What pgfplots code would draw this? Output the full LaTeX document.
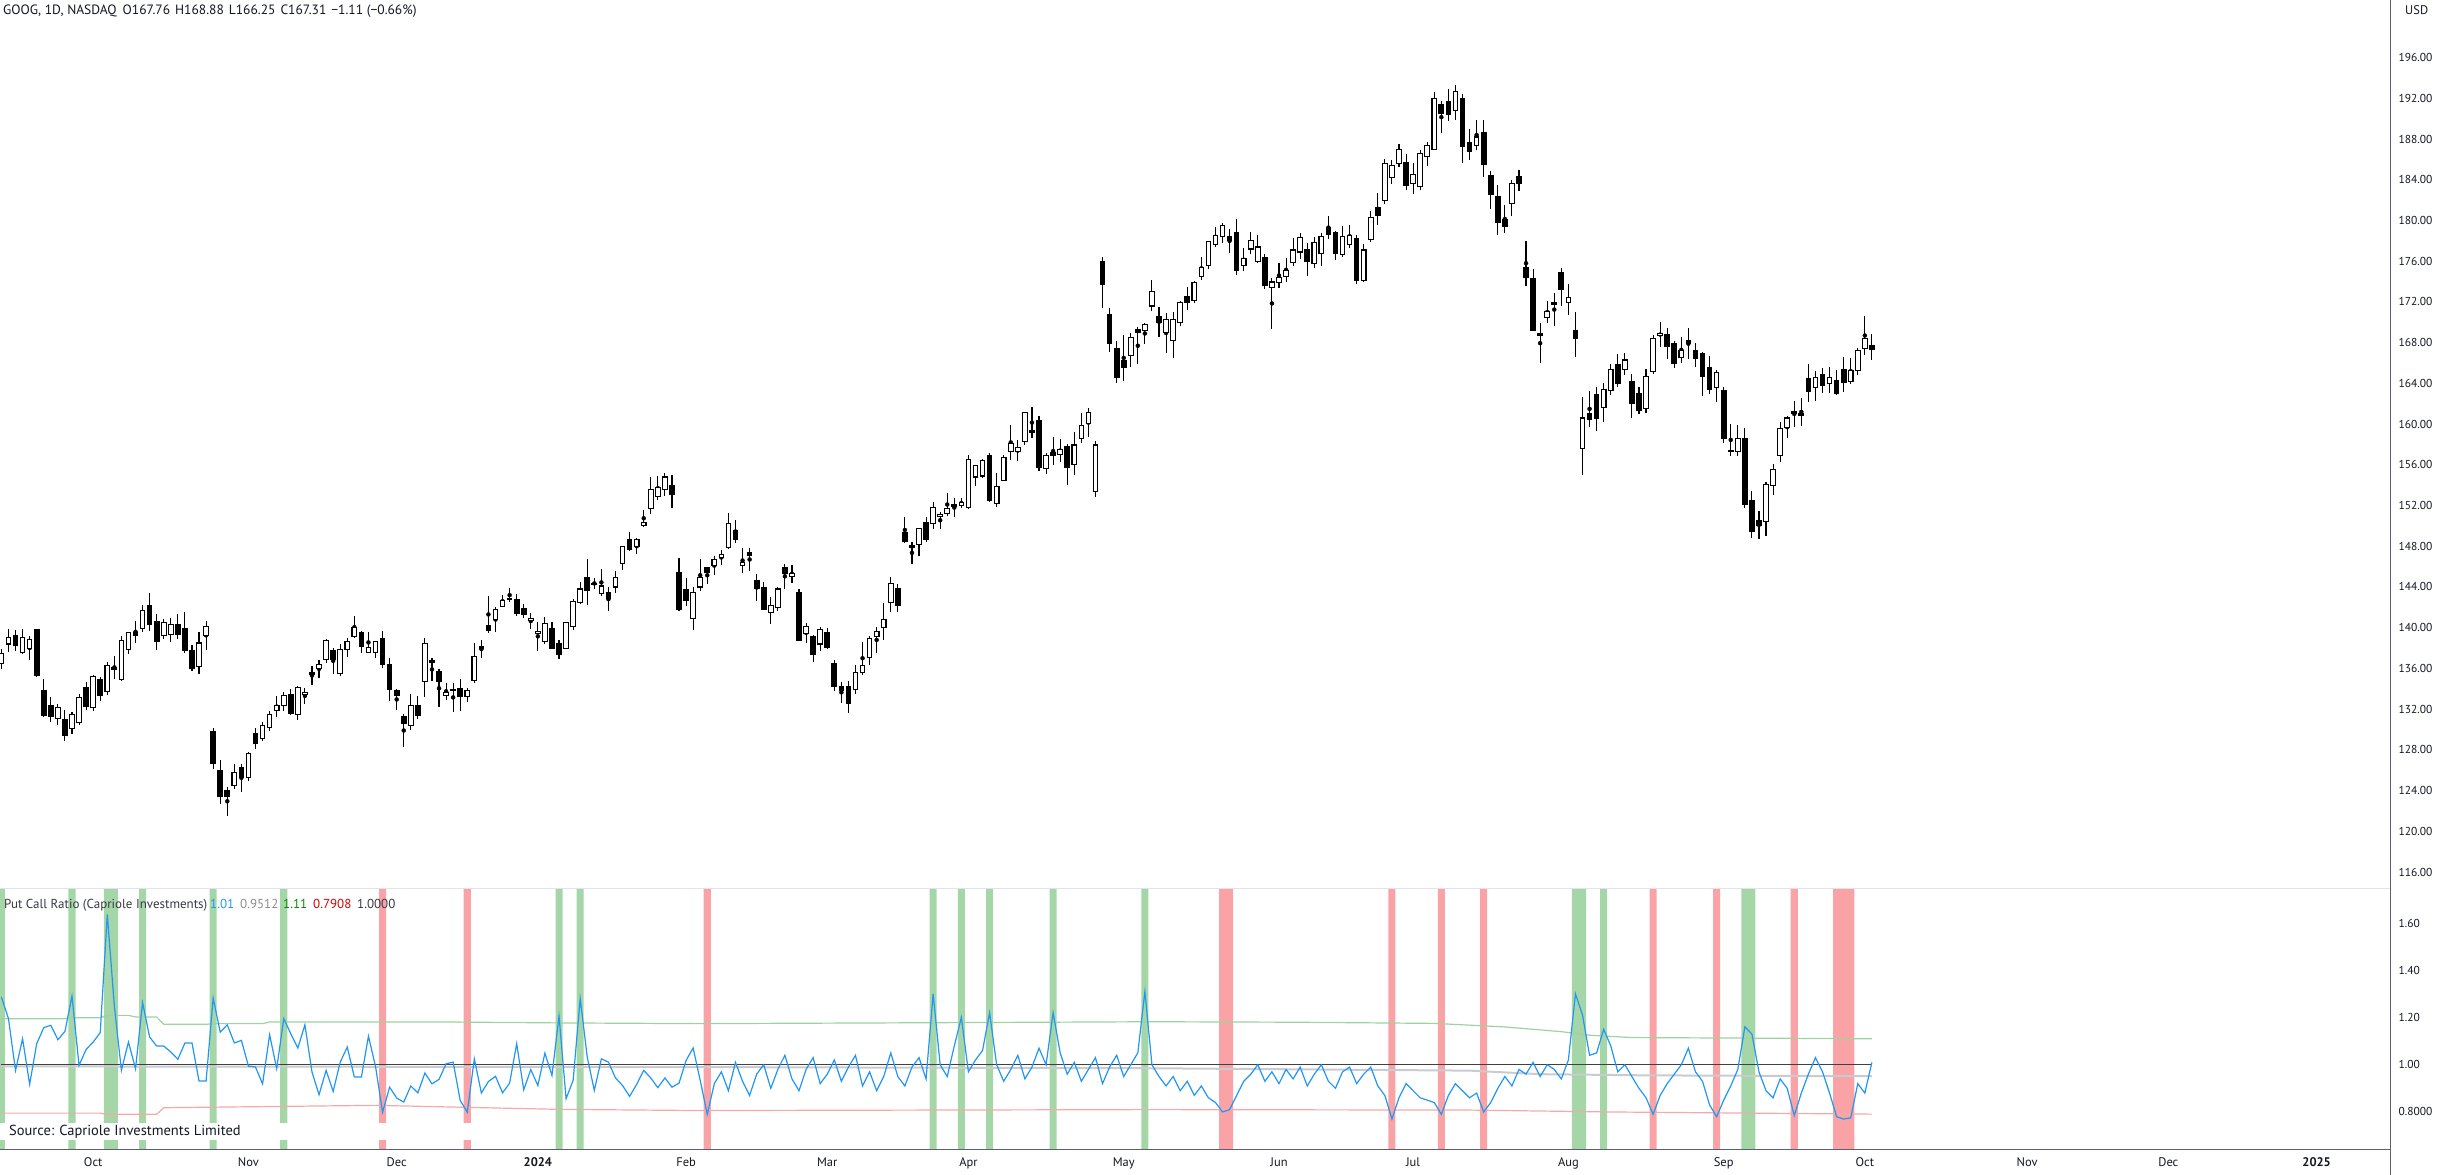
\documentclass[border=0pt]{standalone}
\usepackage{fontspec}
\setmainfont{PT Sans}
\usepackage{pgfplots}
\usepackage{pgfplotstable}
\pgfplotsset{compat=1.18}

\definecolor{tvtext}{HTML}{131722}
\definecolor{tvblue}{HTML}{2196F3}
\definecolor{shadeG}{HTML}{A5D6A7}
\definecolor{shadeR}{HTML}{F9A3A6}
\definecolor{bandG}{HTML}{9ED3A0}
\definecolor{bandR}{HTML}{F5A9AB}
\definecolor{bandM}{HTML}{C9CBD1}
\definecolor{sepline}{HTML}{E0E3EB}
\definecolor{axline}{HTML}{5D606B}

% GOOG daily candles, x = trading day (0 = 2 Oct 2023)
\pgfplotstableread{
x o h l c
-13 136.5 137.9 135.9 137.5
-12 138.4 139.9 137.6 139.0
-11 139.2 139.8 137.7 138.3
-10 137.6 139.9 137.4 139.0
-9 138.0 139.2 136.8 138.8
-8 139.8 139.9 135.2 135.3
-7 133.8 135.0 131.2 131.4
-6 132.4 133.2 130.7 131.25
-5 131.1 132.5 130.4 132.2
-4 131.0 131.9 128.9 129.45
-3 130.1 131.7 129.6 131.46
-2 130.7 133.5 130.4 133.13
-1 134.1 134.7 131.9 132.31
0 132.2 135.4 131.8 135.2
1 134.9 135.2 132.8 133.3
2 133.7 136.6 133.4 136.3
3 136.1 137.2 135.0 135.9
4 134.9 139.2 134.8 138.7
5 137.9 139.6 137.4 139.5
6 139.5 140.7 138.5 139.2
7 139.9 142.2 139.6 141.7
8 142.2 143.4 139.7 140.3
9 140.6 141.3 137.8 138.6
10 139.2 140.9 138.9 140.5
11 139.3 141.0 138.6 140.3
12 140.3 141.3 138.9 139.3
13 139.9 141.5 137.5 137.8
14 137.8 138.3 135.7 136.0
15 136.2 139.6 135.5 138.5
16 139.2 140.7 137.8 140.1
17 129.8 130.1 126.1 126.7
18 126.0 127.0 122.7 123.4
19 124.0 124.4 121.5 123.4
20 124.5 126.6 124.2 125.75
21 126.3 126.6 123.9 125.3
22 125.3 127.8 124.9 127.6
23 129.6 130.1 128.1 128.6
24 129.1 130.7 128.9 130.4
25 130.2 131.8 129.9 131.45
26 131.9 133.3 131.2 132.4
27 132.4 133.7 131.8 133.3
28 133.4 134.0 131.4 131.6
29 131.5 134.3 130.9 134.1
30 133.4 134.1 132.5 133.6
31 135.6 136.2 134.4 135.4
32 136.0 136.8 135.1 136.4
33 136.9 138.9 136.5 138.7
34 137.8 138.0 135.5 136.9
35 135.5 138.4 135.3 137.9
36 137.9 139.0 137.1 138.6
37 139.1 141.1 139.0 140.0
38 139.5 139.7 137.5 138.2
39 137.6 139.6 137.5 138.05
40 137.6 138.7 137.0 138.6
41 138.9 139.7 136.0 136.4
42 136.4 137.0 132.8 133.9
43 133.8 134.0 131.9 133.3
44 131.3 131.5 128.3 130.6
45 130.4 133.5 130.0 132.4
46 132.4 133.3 131.0 131.4
47 134.7 139.0 133.2 138.45
48 136.8 137.0 134.8 136.6
49 135.7 135.9 132.2 134.7
50 133.3 134.6 132.9 133.6
51 133.8 134.6 131.7 133.97
52 134.0 135.0 131.8 133.2
53 133.2 134.1 132.7 133.8
54 134.8 138.5 134.6 137.2
55 138.0 138.8 137.0 138.1
56 140.2 143.1 139.5 139.7
57 140.8 142.0 139.6 141.8
58 142.1 143.2 142.0 142.7
59 142.9 143.9 142.5 142.8
60 142.8 143.3 141.1 141.4
61 141.9 142.3 141.0 141.3
62 140.7 141.4 139.9 140.9
63 139.4 140.6 137.7 139.6
64 138.6 141.1 138.4 140.4
65 139.9 140.6 138.0 138.0
66 138.4 138.8 136.9 137.4
67 138.0 140.6 137.9 140.5
68 140.1 142.8 139.8 142.6
69 142.5 144.5 142.3 143.8
70 144.9 146.7 142.2 143.7
71 144.3 144.9 143.8 144.2
72 143.4 145.8 143.1 144.1
73 143.5 144.0 141.6 142.9
74 144.0 145.6 143.4 144.9
75 146.3 148.0 145.7 147.97
76 148.7 149.4 147.5 147.7
77 148.0 148.8 147.2 148.7
78 150.0 151.6 149.9 150.35
79 151.7 154.8 151.2 153.6
80 152.9 154.9 152.5 153.8
81 153.6 155.2 152.9 154.8
82 154.0 155.0 151.8 153.05
83 145.4 146.8 141.6 141.8
84 143.7 144.9 142.1 142.7
85 140.9 144.0 139.8 143.5
86 144.0 146.7 143.6 144.9
87 145.9 146.0 144.3 145.4
88 146.1 147.0 145.2 146.7
89 146.9 147.6 146.2 147.2
90 147.9 151.3 147.7 150.2
91 149.5 150.6 148.3 148.7
92 146.1 147.8 145.4 146.4
93 147.4 147.8 145.6 147.1
94 144.6 145.3 142.6 143.9
95 143.9 144.5 141.7 141.8
96 141.5 143.0 140.4 142.2
97 142.0 144.0 141.6 143.8
98 145.9 146.3 143.8 145.3
99 145.0 146.2 144.4 145.3
100 143.5 143.8 138.7 138.75
101 139.4 140.5 138.5 140.1
102 139.1 139.3 136.6 137.4
103 138.4 140.1 137.7 139.8
104 139.5 140.0 137.9 138.1
105 136.5 136.8 133.8 134.2
106 134.2 134.7 132.6 133.8
107 134.2 134.8 131.6 132.6
108 133.9 136.3 133.5 135.6
109 135.6 138.6 135.4 136.3
110 137.1 139.2 136.3 138.9
111 139.1 140.1 137.5 139.6
112 140.0 142.4 138.8 140.8
113 142.5 145.0 141.5 144.3
114 143.8 144.3 141.5 142.2
115 149.3 150.9 148.3 148.5
116 148.1 148.4 146.3 147.9
117 148.2 149.8 147.0 149.7
118 150.3 150.9 148.4 148.7
119 150.2 152.3 149.7 151.8
120 150.9 151.4 149.7 151.15
121 151.2 153.2 151.0 151.7
122 152.1 152.7 150.9 151.9
123 152.0 152.7 151.8 152.3
124 151.8 157.0 151.7 156.5
125 154.8 156.0 153.9 155.9
126 154.9 156.6 154.7 156.4
127 156.9 157.2 152.3 152.5
128 152.2 155.2 151.9 153.9
129 154.5 157.0 154.4 156.7
130 157.3 159.9 156.5 158.1
131 157.3 158.4 156.4 157.7
132 158.3 161.1 157.9 161.1
133 159.4 161.7 158.6 159.2
134 160.3 160.8 155.4 155.7
135 155.6 157.2 155.1 156.9
136 157.2 158.7 156.0 156.9
137 157.0 158.5 156.3 157.5
138 157.8 158.0 154.0 155.7
139 156.0 159.2 155.0 157.95
140 158.6 161.1 158.1 159.9
141 160.1 161.6 158.7 161.1
142 153.4 158.3 152.8 157.95
143 176.0 176.4 171.4 173.7
144 170.8 171.4 167.1 167.9
145 167.4 168.2 164.0 164.6
146 166.2 168.8 164.2 165.6
147 166.7 168.9 165.6 168.5
148 169.3 169.5 165.9 169.0
149 169.2 169.9 167.9 169.8
150 171.6 174.2 171.1 173.0
151 170.6 171.5 168.6 170.0
152 169.0 170.9 167.0 170.3
153 168.2 171.0 166.5 170.3
154 170.0 172.1 169.6 171.9
155 172.5 173.5 171.2 171.9
156 172.1 174.1 171.9 173.9
157 174.5 176.4 174.2 175.4
158 175.6 178.0 175.2 177.9
159 177.6 179.4 177.4 178.5
160 178.4 179.8 177.8 179.5
161 178.4 179.2 176.8 178.0
162 178.8 180.1 174.6 175.1
163 175.6 177.3 175.0 176.3
164 177.2 178.9 176.7 178.0
165 176.0 178.6 175.8 177.4
166 176.4 176.7 173.3 173.6
167 173.4 174.4 169.3 173.96
168 173.9 175.8 173.4 174.4
169 174.5 176.3 174.0 175.1
170 175.9 178.3 175.5 177.1
171 176.9 178.8 176.2 178.35
172 177.1 177.8 174.5 175.95
173 175.8 178.4 175.3 177.8
174 176.8 178.8 175.5 178.4
175 179.3 180.4 178.2 178.6
176 178.8 179.0 176.1 176.8
177 176.7 179.5 176.4 178.4
178 177.6 179.6 177.3 178.5
179 178.2 178.6 173.8 174.1
180 174.1 177.7 174.0 177.1
181 178.1 180.9 177.9 180.3
182 181.3 182.7 179.6 180.5
183 182.0 186.0 181.6 185.6
184 184.2 185.9 183.6 185.4
185 185.6 187.5 185.3 187.0
186 185.7 186.5 183.0 183.4
187 183.6 185.6 182.6 184.5
188 183.3 186.9 183.0 186.6
189 186.3 187.7 185.4 187.4
190 187.0 192.6 186.9 192.0
191 191.4 191.7 188.6 190.5
192 191.7 192.9 189.8 190.4
193 190.8 193.3 189.9 192.7
194 192.0 192.4 185.6 187.3
195 187.7 189.0 185.9 186.8
196 187.4 189.9 186.9 188.2
197 188.6 189.9 184.3 185.5
198 184.4 184.9 181.1 182.6
199 182.4 183.5 178.6 179.8
200 180.1 181.5 178.8 179.4
201 181.7 184.0 180.4 183.6
202 184.3 185.0 182.9 183.6
203 175.4 178.0 173.6 174.4
204 174.3 175.2 169.1 169.2
205 168.9 169.9 166.0 168.7
206 170.5 172.1 169.9 171.1
207 171.8 172.9 169.6 171.9
208 174.9 175.3 171.6 173.2
209 171.9 173.8 170.7 172.4
210 169.2 171.0 166.6 168.4
211 157.6 162.7 155.0 160.6
212 161.0 163.3 159.7 160.5
213 162.9 163.6 159.3 160.6
214 161.6 164.0 160.2 163.4
215 163.3 165.9 162.9 165.4
216 165.8 166.9 163.6 164.0
217 165.4 167.0 164.8 166.3
218 164.2 164.9 160.6 162.0
219 163.0 163.6 161.0 161.3
220 161.5 165.4 161.1 164.7
221 165.2 168.8 164.9 168.4
222 168.7 170.0 167.6 168.9
223 168.8 169.4 166.4 167.6
224 167.9 168.2 165.5 166.0
225 166.5 168.6 166.0 167.2
226 168.2 169.4 166.4 167.9
227 167.2 168.0 165.6 166.4
228 166.9 167.1 162.8 164.7
229 165.6 166.7 163.0 163.4
230 163.6 165.3 162.2 165.1
231 163.3 163.6 158.1 158.6
232 157.3 160.0 156.9 157.4
233 157.3 159.9 156.9 158.6
234 158.6 159.6 151.8 152.1
235 152.5 153.4 148.8 149.5
236 150.5 151.5 148.7 150.0
237 150.4 154.3 149.0 154.1
238 154.0 156.1 153.0 155.5
239 156.9 160.2 156.3 159.6
240 159.7 160.8 158.6 160.6
241 161.2 162.3 159.7 161.0
242 161.0 162.6 159.8 160.8
243 164.5 165.9 162.2 163.2
244 163.6 165.2 162.3 164.6
245 164.9 165.5 163.1 163.8
246 164.0 165.6 163.1 164.6
247 164.3 165.3 162.9 163.0
248 165.4 166.6 163.2 164.1
249 164.2 166.5 163.9 165.3
250 165.3 167.5 164.8 167.2
251 167.4 170.6 166.8 168.4
252 167.76 168.88 166.25 167.31
}\ohlc

% put/call ratio
\pgfplotstableread{
x v
-13 1.287
-12 1.195
-11 0.976
-10 1.110
-9 0.917
-8 1.089
-7 1.157
-6 1.167
-5 1.106
-4 1.141
-3 1.291
-2 0.997
-1 1.065
0 1.096
1 1.136
2 1.636
3 1.250
4 0.976
5 1.096
6 0.983
7 1.263
8 1.117
9 1.079
10 1.079
11 1.054
12 1.023
13 1.092
14 1.092
15 0.931
16 0.931
17 1.282
18 1.138
19 1.169
20 1.092
21 1.103
22 0.994
23 0.990
24 0.919
25 1.127
26 0.983
27 1.195
28 1.131
29 1.071
30 1.169
31 0.969
32 0.873
33 0.976
34 0.887
35 1.011
36 1.075
37 0.948
38 0.948
39 1.121
40 0.993
41 0.799
42 0.905
43 0.859
44 0.842
45 0.910
46 0.881
47 0.965
48 0.919
49 0.938
50 1.004
51 1.011
52 0.849
53 0.799
54 1.025
55 0.880
56 0.929
57 0.951
58 0.881
59 0.922
60 1.089
61 0.894
62 0.979
63 0.912
64 1.049
65 0.955
66 1.206
67 0.856
68 0.934
69 1.280
70 1.032
71 0.891
72 1.025
73 1.011
74 0.944
75 0.912
76 0.866
77 0.917
78 0.976
79 0.944
80 0.903
81 0.944
82 0.905
83 0.922
84 1.018
85 1.071
86 0.934
87 0.79
88 0.92
89 0.97
90 0.89
91 1.01
92 0.93
93 0.87
94 0.96
95 1.00
96 0.90
97 0.98
98 1.04
99 0.94
100 0.89
101 0.98
102 1.03
103 0.92
104 0.96
105 1.02
106 0.93
107 0.99
108 1.04
109 0.91
110 0.97
111 0.89
112 0.95
113 1.05
114 0.95
115 0.91
116 0.99
117 1.03
118 0.94
119 1.30
120 1.00
121 0.95
122 1.08
123 1.20
124 0.97
125 1.02
126 1.06
127 1.22
128 1.00
129 0.93
130 0.98
131 1.04
132 0.94
133 0.99
134 1.07
135 1.00
136 1.22
137 1.05
138 0.96
139 1.01
140 0.93
141 0.98
142 1.03
143 0.92
144 0.99
145 1.04
146 0.95
147 1.00
148 1.05
149 1.31
150 1.00
151 0.95
152 0.91
153 0.95
154 0.89
155 0.93
156 0.87
157 0.91
158 0.86
159 0.84
160 0.80
161 0.81
162 0.87
163 0.93
164 0.96
165 1.00
166 0.93
167 0.97
168 0.92
169 0.98
170 0.94
171 0.99
172 0.91
173 0.96
174 1.00
175 0.93
176 0.90
177 0.97
178 0.99
179 0.92
180 0.96
181 0.99
182 0.91
183 0.87
184 0.77
185 0.86
186 0.92
187 0.89
188 0.86
189 0.85
190 0.84
191 0.79
192 0.87
193 0.92
194 0.89
195 0.86
196 0.88
197 0.80
198 0.84
199 0.90
200 0.95
201 0.91
202 0.98
203 0.96
204 1.01
205 0.95
206 1.00
207 0.98
208 0.94
209 1.02
210 1.30
211 1.21
212 1.04
213 1.05
214 1.15
215 1.08
216 0.97
217 1.00
218 0.95
219 0.90
220 0.86
221 0.79
222 0.87
223 0.92
224 0.96
225 1.00
226 1.07
227 0.97
228 0.93
229 0.83
230 0.78
231 0.85
232 0.91
233 0.98
234 1.16
235 1.13
236 0.97
237 0.89
238 0.86
239 0.94
240 0.90
241 0.785
242 0.88
243 0.96
244 1.03
245 0.97
246 0.88
247 0.78
248 0.77
249 0.775
250 0.92
251 0.88
252 1.01
}\pcr

\pgfplotsset{
  tv/.style={
    scale only axis, width=2390pt, anchor=south west,
    xmin=-13.2, xmax=325.4,
    axis line style={draw=none}, major tick length=0pt,
    xtick=\empty, yticklabel pos=right,
    ticklabel style={text=tvtext},
    yticklabel style={anchor=west, xshift=5pt, font=\fontsize{11.5}{12}\selectfont},
  },
}

\begin{document}
\begin{tikzpicture}
\path[use as bounding box] (0pt,0pt) rectangle (2445pt,1175pt);

% price panel: wicks and price scale
\begin{axis}[tv, at={(0pt,287pt)}, height=888pt,
  ymin=114.43, ymax=201.66,
  ytick={116,120,...,196},
  yticklabels={116.00,120.00,124.00,128.00,132.00,136.00,140.00,144.00,148.00,152.00,156.00,160.00,164.00,168.00,172.00,176.00,180.00,184.00,188.00,192.00,196.00},
]
\addplot[only marks, mark=none, error bars/.cd, y dir=both, y explicit,
  error mark=none, error bar style={black, line width=1.1pt}]
  table[x=x, y expr=(\thisrow{h}+\thisrow{l})/2,
        y error expr=(\thisrow{h}-\thisrow{l})/2] {\ohlc};
\end{axis}

% price panel: candle bodies
\begin{axis}[tv, at={(0pt,287pt)}, height=888pt, hide axis,
  ymin=114.43, ymax=201.66, ybar stacked, bar width=4.6pt]
\addplot[draw=none, fill=none] table[x=x, y expr={min(\thisrow{o},\thisrow{c})}] {\ohlc};
\addplot[draw=black, fill=white, line width=1.1pt] table[x=x, y expr={max(\thisrow{c}-\thisrow{o},0)}] {\ohlc};
\addplot[draw=black, fill=black, line width=1.1pt] table[x=x, y expr={max(\thisrow{o}-\thisrow{c},0)}] {\ohlc};
\end{axis}

% put/call ratio panel
\begin{axis}[tv, at={(0pt,25pt)}, height=261pt,
  ymin=0.639, ymax=1.744,
  ytick={0.8,1.0,1.2,1.4,1.6},
  yticklabels={0.8000,1.00,1.20,1.40,1.60},
  xtick={0,22,43,63,84,104,124,146,168,187,209,231,251,274,294,315},
  xticklabels={Oct,Nov,Dec,\textbf{2024},Feb,Mar,Apr,May,Jun,Jul,Aug,Sep,Oct,Nov,Dec,\textbf{2025}},
  xticklabel style={font=\fontsize{12.5}{13}\selectfont, yshift=-4pt},
]
\addplot[ybar, bar width=1, fill=shadeG, draw=none] coordinates {
  (-13,2) (-3,2) (2,2) (3,2) (7,2) (17,2) (27,2) (66,2) (69,2)
  (119,2) (123,2) (127,2) (136,2) (149,2) (210,2) (211,2) (214,2) (234,2) (235,2)};
\addplot[ybar, bar width=1, fill=shadeR, draw=none] coordinates {
  (41,2) (53,2) (87,2) (160,2) (161,2) (184,2) (191,2) (197,2) (221,2)
  (230,2) (241,2) (247,2) (248,2) (249,2)};
\addplot[bandG, line width=1.2pt] coordinates {
  (-13,1.195) (-4,1.195) (-3,1.199) (1,1.199) (2,1.209) (5,1.209) (6,1.202) (9,1.202)
  (10,1.171) (16,1.171) (17,1.174) (24,1.174) (25,1.181) (50,1.181) (66,1.177)
  (86,1.174) (120,1.178) (150,1.182) (170,1.180) (190,1.175) (200,1.160) (208,1.140)
  (212,1.125) (218,1.115) (252,1.110)};
\addplot[bandR, line width=1.2pt] coordinates {
  (-13,0.795) (1,0.795) (2,0.790) (9,0.790) (10,0.818) (40,0.828) (66,0.811)
  (86,0.806) (150,0.810) (195,0.808) (215,0.800) (252,0.7908)};
\addplot[bandM, line width=2pt] coordinates {
  (-13,0.993) (86,0.990) (150,0.985) (195,0.975) (205,0.960) (220,0.955) (252,0.9512)};
\addplot[black!75, line width=1.3pt] coordinates {(-13,1) (252,1)};
\addplot[tvblue, line width=1.2pt] table[x=x, y=v] {\pcr};
\end{axis}

% frame lines
\draw[sepline, line width=1pt] (0pt,286.5pt) -- (2390pt,286.5pt);
\draw[axline, line width=1pt] (0pt,25pt) -- (2390pt,25pt);
\draw[axline, line width=1pt] (2390pt,0pt) -- (2390pt,1175pt);

% source box
\fill[white] (0pt,35pt) rectangle (510pt,52pt);
\node[anchor=base west, inner sep=0pt, text=tvtext, font=\fontsize{14.5}{15}\selectfont]
  at (9pt,39.5pt) {Source: Capriole Investments Limited};

% titles
\node[anchor=base west, inner sep=0pt, text=tvtext, font=\fontsize{13.5}{14}\selectfont]
  at (3pt,1160pt) {GOOG, 1D, NASDAQ\hspace{6pt}O167.76\hspace{5pt}H168.88\hspace{5pt}L166.25\hspace{5pt}C167.31\hspace{5pt}−1.11 (−0.66\%)};
\node[anchor=base west, inner sep=0pt, text=tvtext, font=\fontsize{12.5}{13}\selectfont]
  at (2405pt,1160pt) {USD};
\begin{scope}[every node/.style={anchor=base west, inner sep=0pt, font=\fontsize{13}{14}\selectfont}]
\node[text=tvtext!85] at (4pt,266pt) {Put Call Ratio (Capriole Investments)};
\node[text=tvblue] at (210pt,266pt) {1.01};
\node[text=black!45] at (240pt,266pt) {0.9512};
\node[text=green!55!black] at (283pt,266pt) {1.11};
\node[text=red!85!black] at (313pt,266pt) {0.7908};
\node[text=tvtext!85] at (357pt,266pt) {1.0000};
\end{scope}
\end{tikzpicture}
\end{document}
